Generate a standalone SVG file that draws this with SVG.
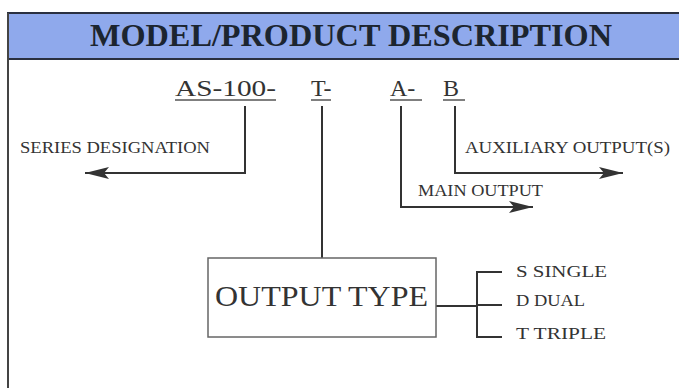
<svg xmlns="http://www.w3.org/2000/svg" width="679" height="388" viewBox="0 0 679 388">
<defs>
<style>
.t{font-family:"Liberation Serif","Times New Roman",serif;fill:#333;}
.ln{stroke:#333;stroke-width:2;fill:none;}
.thin{stroke:#555;stroke-width:1.5;fill:none;}
</style>
<marker id="ah" viewBox="0 0 24 12" refX="24" refY="6" markerWidth="24" markerHeight="12" markerUnits="userSpaceOnUse" orient="auto" overflow="visible">
<path d="M0,0 L24,6 L0,12 L5,6 Z" fill="#333"/>
</marker>
</defs>
<rect x="0" y="0" width="679" height="388" fill="#fff"/>
<g id="frame">
<rect x="8" y="13" width="680" height="46" fill="#8fa9ec" stroke="#2a3040" stroke-width="2"/>
<line x1="8" y1="13" x2="8" y2="388" stroke="#444" stroke-width="2"/>
<text x="90" y="46" font-size="32" font-weight="bold" textLength="522" lengthAdjust="spacingAndGlyphs" style="font-family:'Liberation Serif','Times New Roman',serif;fill:#1c2530">MODEL/PRODUCT DESCRIPTION</text>
</g>
<g id="code">
<text class="t" x="175" y="96" font-size="24" textLength="101" lengthAdjust="spacingAndGlyphs">AS-100-</text>
<line class="thin" x1="175" y1="100" x2="276" y2="100"/>
<text class="t" x="311" y="96" font-size="24">T-</text>
<line class="thin" x1="311" y1="100" x2="331" y2="100"/>
<text class="t" x="390" y="96" font-size="24">A-</text>
<line class="thin" x1="390" y1="100" x2="422" y2="100"/>
<text class="t" x="443" y="96" font-size="24">B</text>
<line class="thin" x1="443" y1="100" x2="465" y2="100"/>
</g>
<g id="connectors">
<polyline class="ln" points="245,106 245,173 85,173" marker-end="url(#ah)"/>
<line class="ln" x1="322" y1="106" x2="322" y2="258"/>
<polyline class="ln" points="401,106 401,207 533,207" marker-end="url(#ah)"/>
<polyline class="ln" points="455,106 455,173 623,173" marker-end="url(#ah)"/>
<line class="ln" x1="436" y1="306" x2="477" y2="306"/>
<polyline class="ln" points="502,272 477,272 477,337 502,337"/>
<line class="ln" x1="477" y1="305" x2="502" y2="305"/>
</g>
<g id="series">
<text class="t" x="20" y="153" font-size="16" textLength="190" lengthAdjust="spacingAndGlyphs">SERIES DESIGNATION</text>
</g>
<g id="main">
<text class="t" x="418" y="196" font-size="16" textLength="125" lengthAdjust="spacingAndGlyphs">MAIN OUTPUT</text>
</g>
<g id="aux">
<text class="t" x="465" y="153" font-size="16" textLength="205" lengthAdjust="spacingAndGlyphs">AUXILIARY OUTPUT(S)</text>
</g>
<g id="outputtype">
<rect x="208" y="258" width="228" height="79" fill="#fff" stroke="#666" stroke-width="1.5"/>
<text class="t" x="215" y="306" font-size="29" textLength="213" lengthAdjust="spacingAndGlyphs">OUTPUT TYPE</text>
</g>
<g id="options">
<text class="t" x="516" y="277" font-size="17" textLength="91" lengthAdjust="spacingAndGlyphs">S SINGLE</text>
<text class="t" x="516" y="306" font-size="17" textLength="69" lengthAdjust="spacingAndGlyphs">D DUAL</text>
<text class="t" x="516" y="339" font-size="17" textLength="90" lengthAdjust="spacingAndGlyphs">T TRIPLE</text>
</g>
</svg>
